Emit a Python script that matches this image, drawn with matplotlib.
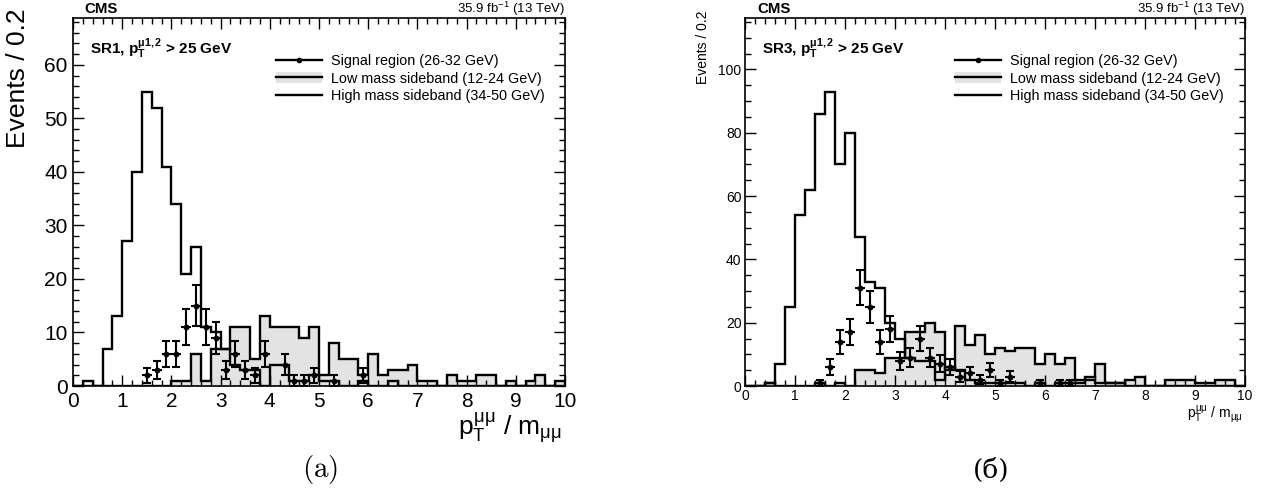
import numpy as np
import matplotlib
matplotlib.use("Agg")
import matplotlib.pyplot as plt
from matplotlib.lines import Line2D
from matplotlib.patches import Patch
from matplotlib.legend_handler import HandlerTuple
from matplotlib.ticker import MultipleLocator

plt.rcParams['font.family'] = ['Liberation Sans', 'DejaVu Sans']
plt.rcParams['mathtext.fontset'] = 'custom'
plt.rcParams['mathtext.rm'] = 'Liberation Sans'
plt.rcParams['mathtext.it'] = 'Liberation Sans'
plt.rcParams['mathtext.bf'] = 'Liberation Sans:bold'

# bins of pT/m, width 0.2 from 0 to 10
edges = np.linspace(0, 10, 51)
centers = 0.5 * (edges[:-1] + edges[1:])

labels = ["Signal region (26-32 GeV)",
          "Low mass sideband (12-24 GeV)",
          "High mass sideband (34-50 GeV)"]

# SR1 (left panel)
sr1_high = [0, 1, 0, 7, 13, 27, 40, 55, 52, 41,
            34, 21, 26, 11, 10, 7, 4, 3, 3, 0,
            4, 4, 1, 1, 2, 1, 1, 0, 0, 1,
            0, 0, 1, 0, 0, 0, 0, 0, 0, 0,
            0, 0, 0, 0, 0, 0, 0, 0, 0, 0]
sr1_low = [0, 0, 0, 0, 0, 0, 0, 0, 0, 0,
           1, 1, 6, 1, 7, 7, 11, 11, 5, 13,
           11, 11, 11, 9, 11, 2, 8, 5, 5, 2,
           6, 2, 3, 3, 4, 1, 1, 0, 2, 1,
           1, 2, 2, 0, 1, 0, 1, 2, 0, 1]
sr1_sig = [0, 0, 0, 0, 0, 0, 0, 2, 3, 6,
           6, 11, 15, 11, 9, 3, 6, 3, 2, 6,
           0, 4, 1, 1, 2, 0, 1, 0, 0, 2,
           0, 0, 0, 0, 0, 0, 0, 0, 0, 0,
           0, 0, 0, 0, 0, 0, 0, 0, 0, 0]

# SR3 (right panel)
sr3_high = [0, 0, 1, 7, 25, 54, 62, 86, 93, 70,
            80, 47, 33, 31, 20, 15, 9, 8, 8, 2,
            6, 5, 2, 1, 1, 1, 1, 1, 0, 1,
            0, 1, 1, 1, 2, 1, 1, 1, 0, 0,
            0, 0, 0, 0, 0, 0, 0, 0, 0, 0]
sr3_low = [0, 0, 1, 0, 0, 0, 0, 1, 0, 1,
           0, 5, 5, 4, 9, 9, 17, 17, 20, 17,
           5, 19, 13, 16, 10, 12, 11, 12, 12, 7,
           10, 7, 9, 2, 3, 7, 1, 1, 2, 3,
           0, 0, 2, 2, 2, 1, 1, 2, 2, 0]
sr3_sig = [0, 0, 0, 0, 0, 0, 0, 1, 6, 14,
           17, 31, 25, 14, 18, 8, 9, 15, 9, 7,
           6, 3, 4, 2, 5, 1, 3, 0, 0, 1,
           0, 1, 1, 0, 0, 0, 0, 0, 0, 0,
           0, 0, 0, 0, 0, 0, 0, 0, 0, 0]

GREY = '#e3e3e3'
LW = 1.7


def draw_panel(ax, high, low, sig, region, ymax, ymaj, ymin, tick_fs, tick_pad, leg_x):
    ax.stairs(low, edges, fill=True, color=GREY, lw=0, zorder=1)
    ax.stairs(low, edges, color='k', lw=LW, zorder=2)
    ax.stairs(high, edges, color='k', lw=LW, zorder=3)

    sig = np.asarray(sig, dtype=float)
    m = sig > 0
    ax.errorbar(centers[m], sig[m], yerr=np.sqrt(sig[m]), fmt='none',
                ecolor='k', elinewidth=1.5, capsize=2.8, capthick=1.5, zorder=4)
    ax.errorbar(centers[m], sig[m], xerr=0.1, fmt='o', color='k', ms=3.2,
                elinewidth=1.5, capsize=0, zorder=5)

    ax.set_xlim(0, 10)
    ax.set_ylim(0, ymax)
    ax.xaxis.set_major_locator(MultipleLocator(1))
    ax.xaxis.set_minor_locator(MultipleLocator(0.2))
    ax.yaxis.set_major_locator(MultipleLocator(ymaj))
    ax.yaxis.set_minor_locator(MultipleLocator(ymin))
    ax.tick_params(which='both', direction='in', top=True, right=True,
                   width=1.0, labelsize=tick_fs, pad=tick_pad)
    ax.tick_params(which='major', length=8)
    ax.tick_params(which='minor', length=4)
    for s in ax.spines.values():
        s.set_linewidth(1.2)

    ax.text(0.024, 1.025, 'CMS', transform=ax.transAxes, fontsize=10.8,
            fontweight='bold', ha='left', va='center')
    ax.text(1.0, 1.025, '35.9 fb$^{-1}$ (13 TeV)', transform=ax.transAxes,
            fontsize=9.5, ha='right', va='center')
    ax.text(0.035, 0.902, region + r', $\mathbf{p_{T}^{μ1,2}}$ > 25 GeV',
            transform=ax.transAxes, fontsize=11, fontweight='bold',
            ha='left', va='baseline')

    h_sig = Line2D([], [], color='k', lw=LW, marker='o', ms=3)
    h_low = (Patch(facecolor=GREY, edgecolor='none'),
             Line2D([], [], color='k', lw=LW))
    h_high = Line2D([], [], color='k', lw=LW)
    ax.legend([h_sig, h_low, h_high], labels,
              handler_map={tuple: HandlerTuple(ndivide=1)},
              loc='upper left', bbox_to_anchor=(leg_x, 0.902),
              frameon=False, fontsize=10.4, handlelength=3.15,
              handleheight=0.85, handletextpad=0.66, labelspacing=0.25,
              borderpad=0, borderaxespad=0)


fig = plt.figure(figsize=(12.82, 4.97), dpi=100)
ax1 = fig.add_axes([73 / 1282, 111 / 497, 492 / 1282, 368 / 497])
ax2 = fig.add_axes([745 / 1282, 111 / 497, 500 / 1282, 368 / 497])

draw_panel(ax1, sr1_high, sr1_low, sr1_sig, 'SR1', 68.75, 10, 2, 15, 4, 0.413)
draw_panel(ax2, sr3_high, sr3_low, sr3_sig, 'SR3', 116.25, 20, 5, 10, 2.5, 0.42)

fig.text(18 / 1282, 1 - 8 / 497, 'Events / 0.2', rotation=90,
         ha='center', va='top', fontsize=19)
fig.text(562 / 1282, 1 - 428 / 497, '$p_{T}^{μμ}$ / $m_{μμ}$',
         ha='right', va='center', fontsize=19)

fig.text(703 / 1282, 1 - 10 / 497, 'Events / 0.2', rotation=90,
         ha='center', va='top', fontsize=10)
fig.text(1243 / 1282, 1 - 414 / 497, '$p_{T}^{μμ}$ / $m_{μμ}$',
         ha='right', va='center', fontsize=10)

fig.text(320 / 1282, 1 - 470 / 497, r'$\mathrm{(a)}$', math_fontfamily='cm',
         ha='center', va='center', fontsize=21)
fig.text(991 / 1282, 1 - 470 / 497, '(б)', family='DejaVu Serif',
         ha='center', va='center', fontsize=19)

fig.savefig('out.png', dpi=100)
